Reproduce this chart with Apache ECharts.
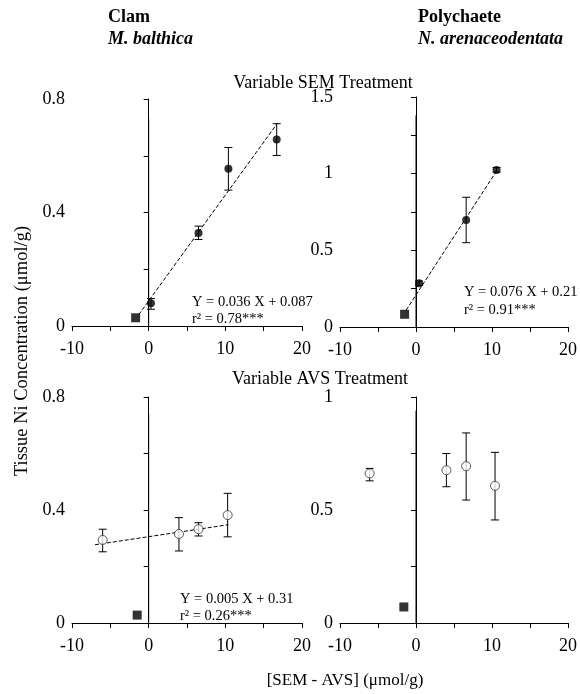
<!DOCTYPE html>
<html>
<head>
<meta charset="utf-8">
<script src="https://cdn.jsdelivr.net/npm/echarts@6/dist/echarts.min.js"></script>
<style>
  html, body { margin: 0; padding: 0; background: #fff; }
  #chart { width: 580px; height: 694px; }
</style>
</head>
<body>
<div id="chart"></div>
<script>
// x ticks shared by all panels
var xTickLabels = [-10, 0, 10, 20];

// Clam, variable SEM
var clamSemX = [0.3, 6.5, 10.4, 16.7];
var clamSemY = [0.08, 0.328, 0.554, 0.657];
var clamSemLo = [0.059, 0.305, 0.479, 0.601];
var clamSemHi = [0.097, 0.352, 0.629, 0.713];
var clamSemCtrl = [-1.7, 0.029];
var clamSemFit = [[-1.3, 0.04], [16.8, 0.715]];

// Polychaete, variable SEM
var polySemX = [0.4, 6.6, 10.6];
var polySemY = [0.285, 0.698, 1.024];
var polySemLo = [0.27, 0.55, 1.01];
var polySemHi = [0.30, 0.846, 1.04];
var polySemCtrl = [-1.5, 0.083];
var polySemFit = [[-1.3, 0.11], [10.7, 1.025]];

// Clam, variable AVS
var clamAvsX = [-6.0, 3.95, 6.5, 10.3];
var clamAvsY = [0.294, 0.315, 0.332, 0.382];
var clamAvsLo = [0.252, 0.255, 0.308, 0.305];
var clamAvsHi = [0.332, 0.373, 0.355, 0.459];
var clamAvsCtrl = [-1.5, 0.028];
var clamAvsFit = [[-7, 0.277], [10.4, 0.348]];

// Polychaete, variable AVS
var polyAvsX = [-6.1, 4.0, 6.6, 10.4];
var polyAvsY = [0.662, 0.676, 0.694, 0.607];
var polyAvsLo = [0.629, 0.603, 0.544, 0.456];
var polyAvsHi = [0.684, 0.75, 0.841, 0.755];
var polyAvsCtrl = [-1.6, 0.071];

// top of the vertical line at x = 0 in each panel
var zeroLineTop = [0.73, 1.38, 0.74, 0.94];

var FONT = 'Liberation Serif';

var chart = echarts.init(document.getElementById('chart'));

function pairs(xs, ys){
  var out = [];
  for (var i = 0; i < xs.length; i++) out.push([xs[i], ys[i]]);
  return out;
}
function triples(xs, lo, hi){
  var out = [];
  for (var i = 0; i < xs.length; i++) out.push([xs[i], lo[i], hi[i]]);
  return out;
}

var grids = [
  { left: 72, top: 99, width: 230, height: 227 },
  { left: 340, top: 97, width: 229, height: 230 },
  { left: 72, top: 397, width: 230, height: 226 },
  { left: 340, top: 397, width: 229, height: 226 }
];
var yCfg = [
  { max: 0.8, interval: 0.2, step: 0.4 },
  { max: 1.5, interval: 0.25, step: 0.5 },
  { max: 0.8, interval: 0.2, step: 0.4 },
  { max: 1, interval: 0.25, step: 0.5 }
];

var xAxes = [], yAxes = [];
grids.forEach(function(g, i){
  xAxes.push({
    gridIndex: i, type: 'value', min: -10, max: 20, interval: 5,
    axisLine: { show: true, onZero: false, lineStyle: { color: '#000', width: 1 } },
    axisTick: { show: true, length: 5, lineStyle: { color: '#000' } },
    splitLine: { show: false },
    axisLabel: {
      color: '#000', fontFamily: FONT, fontSize: 18, margin: 14,
      formatter: function(v){ return xTickLabels.indexOf(v) >= 0 ? String(v) : ''; }
    }
  });
  var c = yCfg[i];
  yAxes.push({
    gridIndex: i, type: 'value', min: 0, max: c.max, interval: c.interval,
    axisLine: { show: true, lineStyle: { color: '#000', width: 1 } },
    axisTick: { show: true, length: 5, lineStyle: { color: '#000' } },
    splitLine: { show: false },
    axisLabel: {
      color: '#000', fontFamily: FONT, fontSize: 18, margin: 7,
      formatter: function(v){
        var k = Math.round(v / c.step);
        return Math.abs(v - k * c.step) < 1e-6 ? String(+(k * c.step).toFixed(2)) : '';
      }
    }
  });
});

function errBars(idx, data){
  return {
    type: 'custom', xAxisIndex: idx, yAxisIndex: idx, data: data, z: 3,
    renderItem: function(params, api){
      var x = api.value(0);
      var p1 = api.coord([x, api.value(1)]);
      var p2 = api.coord([x, api.value(2)]);
      var st = { stroke: '#000', lineWidth: 1 };
      return {
        type: 'group',
        children: [
          { type: 'line', shape: { x1: p1[0], y1: p1[1], x2: p2[0], y2: p2[1] }, style: st },
          { type: 'line', shape: { x1: p1[0] - 4, y1: p1[1], x2: p1[0] + 4, y2: p1[1] }, style: st },
          { type: 'line', shape: { x1: p2[0] - 4, y1: p2[1], x2: p2[0] + 4, y2: p2[1] }, style: st }
        ]
      };
    }
  };
}
function points(idx, data, open){
  return {
    type: 'scatter', xAxisIndex: idx, yAxisIndex: idx, data: data, z: 5,
    symbol: 'circle', symbolSize: open ? 9 : 8,
    itemStyle: open ? { color: '#fff', borderColor: '#333', borderWidth: 1 } : { color: '#000' }
  };
}
function ctrl(idx, pt){
  return {
    type: 'scatter', xAxisIndex: idx, yAxisIndex: idx, data: [pt], z: 5,
    symbol: 'rect', symbolSize: 9, itemStyle: { color: '#000' }
  };
}
function fit(idx, data){
  return {
    type: 'line', xAxisIndex: idx, yAxisIndex: idx, data: data, z: 4,
    symbol: 'none', lineStyle: { color: '#000', width: 1, type: [4, 2] }
  };
}
function zeroLine(idx){
  return {
    type: 'line', xAxisIndex: idx, yAxisIndex: idx, data: [[0, 0], [0, zeroLineTop[idx]]], z: 2,
    symbol: 'none', lineStyle: { color: '#000', width: 1 }
  };
}

var series = [
  zeroLine(0), fit(0, clamSemFit), errBars(0, triples(clamSemX, clamSemLo, clamSemHi)),
  points(0, pairs(clamSemX, clamSemY), false), ctrl(0, clamSemCtrl),
  zeroLine(1), fit(1, polySemFit), errBars(1, triples(polySemX, polySemLo, polySemHi)),
  points(1, pairs(polySemX, polySemY), false), ctrl(1, polySemCtrl),
  zeroLine(2), fit(2, clamAvsFit), errBars(2, triples(clamAvsX, clamAvsLo, clamAvsHi)),
  points(2, pairs(clamAvsX, clamAvsY), true), ctrl(2, clamAvsCtrl),
  zeroLine(3), errBars(3, triples(polyAvsX, polyAvsLo, polyAvsHi)),
  points(3, pairs(polyAvsX, polyAvsY), true), ctrl(3, polyAvsCtrl)
];

function txt(x, y, text, opts){
  opts = opts || {};
  return {
    type: 'text', x: x, y: y, rotation: opts.rotation || 0,
    style: {
      text: text, fill: '#000', fontFamily: FONT,
      fontSize: opts.size || 14.5, fontWeight: opts.weight || 'normal',
      fontStyle: opts.style || 'normal',
      textAlign: opts.align || 'left', textVerticalAlign: 'middle'
    }
  };
}

var graphic = [
  txt(108, 17, 'Clam', { size: 18, weight: 'bold' }),
  txt(108, 39, 'M. balthica', { size: 18, weight: 'bold', style: 'italic' }),
  txt(418, 17, 'Polychaete', { size: 18, weight: 'bold' }),
  txt(418, 39, 'N. arenaceodentata', { size: 18, weight: 'bold', style: 'italic' }),
  txt(323, 83, 'Variable SEM Treatment', { size: 18, align: 'center' }),
  txt(320, 379, 'Variable AVS Treatment', { size: 18, align: 'center' }),
  txt(192, 302, 'Y = 0.036 X + 0.087'),
  txt(192, 319, 'r\u00b2 = 0.78***'),
  txt(464, 292, 'Y = 0.076 X + 0.21'),
  txt(464, 310, 'r\u00b2 = 0.91***'),
  txt(180, 599, 'Y = 0.005 X + 0.31'),
  txt(180, 616, 'r\u00b2 = 0.26***'),
  txt(22, 351, 'Tissue Ni Concentration (\u03bcmol/g)', { size: 18.5, align: 'center', rotation: Math.PI / 2 }),
  txt(345, 681, '[SEM - AVS] (\u03bcmol/g)', { size: 17, align: 'center' })
];

chart.setOption({
  backgroundColor: '#fff',
  animation: false,
  grid: grids,
  xAxis: xAxes,
  yAxis: yAxes,
  series: series,
  graphic: graphic
});
</script>
</body>
</html>
